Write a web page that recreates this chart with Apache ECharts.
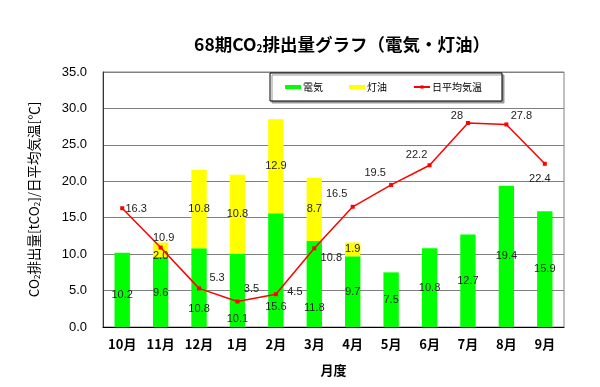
<!DOCTYPE html>
<html>
<head>
<meta charset="utf-8">
<script src="https://cdn.jsdelivr.net/npm/echarts@6/dist/echarts.min.js"></script>
<style>html,body{margin:0;padding:0;background:#fff;}#c{width:600px;height:387px;}</style>
</head>
<body>
<div id="c"></div>
<script>
const months = ['10月','11月','12月','1月','2月','3月','4月','5月','6月','7月','8月','9月'];
const electricity = [10.2, 9.6, 10.8, 10.1, 15.6, 11.8, 9.7, 7.5, 10.8, 12.7, 19.4, 15.9];
const kerosene = [0, 2.0, 10.8, 10.8, 12.9, 8.7, 1.9, 0, 0, 0, 0, 0];
const temperature = [16.3, 10.9, 5.3, 3.5, 4.5, 10.8, 16.5, 19.5, 22.2, 28, 27.8, 22.4];
const yTicks = [0, 5, 10, 15, 20, 25, 30, 35];

// label placement styling (pixel shifts), separate from data
const elecShift = [5, 1, 21, 29, 37, 24, 0, 0, 0, 0, 0, 0];
const keroShift = [0, 6, 0, 0, 0, 0, 0, 0, 0, 0, 0, 0];
const tempShift = [[14,1],[3,-10],[18,-10],[14,-13],[19,-2],[17,10],[-16,-13],[-16,-12],[-13,-10],[-11,-7],[15,-8],[-5,15]];

const fontJP = '"Noto Sans CJK JP", "Noto Sans", sans-serif';
const labelFont = { fontFamily: 'Liberation Sans, Arial, sans-serif', fontSize: 11, color: '#222' };

const chart = echarts.init(document.getElementById('c'), null, { renderer: 'canvas' });

chart.setOption({
  animation: false,
  backgroundColor: '#fff',
  title: {
    text: '{a|68期CO}{s|2}{a|排出量グラフ（電気・灯油）}',
    left: 337, textAlign: 'center', top: 30,
    textStyle: {
      rich: {
        a: { fontFamily: fontJP, fontSize: 17.5, fontWeight: 'bold', color: '#000' },
        s: { fontFamily: fontJP, fontSize: 10, fontWeight: 'bold', color: '#000', verticalAlign: 'bottom', padding: [8,0,0,0] }
      }
    }
  },
  legend: {
    left: 270, top: 73,
    padding: [9, 20, 9, 15],
    itemGap: 26,
    itemWidth: 16, itemHeight: 4,
    backgroundColor: '#fff',
    borderColor: '#000', borderWidth: 1,
    shadowColor: '#999', shadowOffsetX: 2, shadowOffsetY: 2, shadowBlur: 0,
    textStyle: { fontFamily: fontJP, fontSize: 10, color: '#000', padding: [0,0,0,-3] },
    data: [
      { name: '電気', icon: 'rect' },
      { name: '灯油', icon: 'rect' },
      { name: '日平均気温' }
    ]
  },
  grid: { left: 103, right: 36, top: 72, bottom: 60, show: true, borderColor: '#808080', borderWidth: 1 },
  xAxis: {
    type: 'category',
    data: months,
    name: '月度',
    nameLocation: 'middle',
    nameGap: 37,
    nameTextStyle: { fontFamily: fontJP, fontSize: 13, fontWeight: 'bold', color: '#000' },
    axisLine: { lineStyle: { color: '#000', width: 1 } },
    axisTick: { inside: true, length: 5, lineStyle: { color: '#000' } },
    axisLabel: { fontFamily: fontJP, fontSize: 13, fontWeight: 'bold', color: '#000', margin: 11, interval: 0 }
  },
  yAxis: {
    type: 'value',
    min: 0, max: 35, interval: 5,
    name: '{a|CO}{s|2}{a|排出量[tCO}{s|2}{a|]/日平均気温[℃]}',
    nameLocation: 'middle',
    nameRotate: 90,
    nameGap: 62,
    nameTextStyle: {
      rich: {
        a: { fontFamily: fontJP, fontSize: 13.5, color: '#000' },
        s: { fontFamily: fontJP, fontSize: 8, color: '#000', verticalAlign: 'bottom', padding: [6,0,0,0] }
      }
    },
    axisLine: { show: true, lineStyle: { color: '#333', width: 1 } },
    axisTick: { show: false },
    splitLine: { lineStyle: { color: '#808080', width: 1 } },
    axisLabel: {
      fontFamily: 'Liberation Sans, Arial, sans-serif', fontSize: 13, color: '#000', margin: 16,
      formatter: v => yTicks.includes(v) ? v.toFixed(1) : ''
    }
  },
  series: [
    {
      name: '電気', type: 'bar', stack: 'co2', barWidth: '40%',
      itemStyle: { color: '#00ff00' },
      data: electricity.map((v, i) => ({
        value: v,
        label: { show: true, position: 'inside', offset: [0, elecShift[i]], formatter: () => v.toFixed(1), ...labelFont }
      }))
    },
    {
      name: '灯油', type: 'bar', stack: 'co2', barWidth: '40%',
      itemStyle: { color: '#ffff00' },
      data: kerosene.map((v, i) => ({
        value: v,
        label: { show: v > 0, position: 'inside', offset: [0, keroShift[i]], formatter: () => v.toFixed(1), ...labelFont }
      }))
    },
    {
      name: '日平均気温', type: 'line',
      symbol: 'rect', symbolSize: 4,
      lineStyle: { color: '#ff0000', width: 1.5 },
      itemStyle: { color: '#ff0000' },
      z: 5,
      data: temperature.map((v, i) => ({
        value: v,
        label: { show: true, position: 'inside', offset: tempShift[i], formatter: () => String(v), ...labelFont }
      }))
    }
  ]
});
</script>
</body>
</html>
